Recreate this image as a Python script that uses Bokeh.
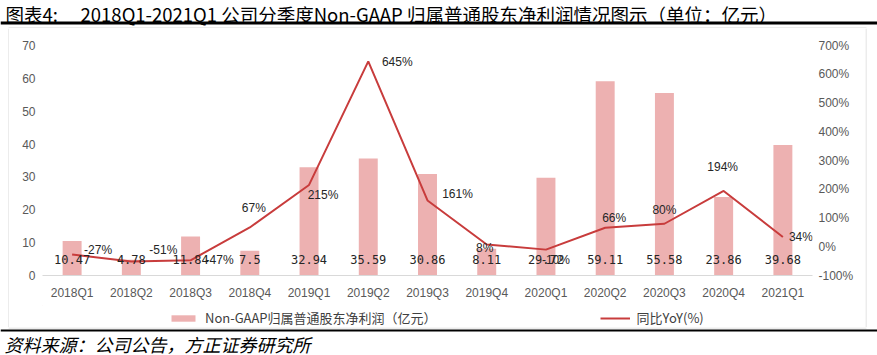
from bokeh.plotting import figure
from bokeh.layouts import column, row
from bokeh.models import (ColumnDataSource, Range1d, LinearAxis, FixedTicker, PrintfTickFormatter,
                          LabelSet, Label, BoxAnnotation, Legend, LegendItem, FactorRange)
from bokeh.core.properties import value
from bokeh.embed import file_html
from bokeh.resources import INLINE

# ---------------- data ----------------
quarters = ["2018Q1", "2018Q2", "2018Q3", "2018Q4", "2019Q1", "2019Q2", "2019Q3",
            "2019Q4", "2020Q1", "2020Q2", "2020Q3", "2020Q4", "2021Q1"]
profit = [10.47, 4.78, 11.84, 7.5, 32.94, 35.59, 30.86, 8.11, 29.72, 59.11, 55.58, 23.86, 39.68]
yoy = [-27, -51, -47, 67, 215, 645, 161, 8, -10, 66, 80, 194, 34]
left_ticks = [0, 10, 20, 30, 40, 50, 60, 70]
right_ticks = [-100, 0, 100, 200, 300, 400, 500, 600, 700]
series_names = ["Non-GAAP归属普通股东净利润（亿元）", "同比YoY(%)"]
title_text = "图表4:\u3000 2018Q1-2021Q1 公司分季度Non-GAAP 归属普通股东净利润情况图示（单位：亿元）"
source_text = "资料来源：公司公告，方正证券研究所"

# label placement (screen px, y up)
yoy_dx = [26, 32, 29, 4, 14, 29, 30, -2, 10, 9, 0, -1, 18]
yoy_dy = [5, 11, 0, 19, -10, -1, 6, -4, -10, 10, 14, 24, 0]

BAR = "#EDB1B1"
LINE = "#C83C3C"
TICK = "#595959"
LAB = "#262626"
BOXC = "#D9D9D9"

W = 877


def blank(width, height, ymax):
    f = figure(width=width, height=height, x_range=Range1d(0, width), y_range=Range1d(ymax, 0),
               output_backend="svg", toolbar_location=None, title=None,
               min_border_left=0, min_border_right=0, min_border_top=0, min_border_bottom=0,
               x_axis_location=None, y_axis_location=None,
               background_fill_color="white", border_fill_color="white", outline_line_color=None)
    f.xgrid.visible = False
    f.ygrid.visible = False
    return f


def box(left, right, top, bottom, color):
    return BoxAnnotation(left=left, right=right, top=top, bottom=bottom,
                         fill_color=color, fill_alpha=1, line_color=None)


# ---------------- header ----------------
head = blank(W, 28, 28)
head.add_layout(Label(x=5, y=13, text=title_text, text_font="Noto Sans CJK SC",
                      text_font_size="18.5px", text_color="#000000",
                      text_baseline="middle", text_align="left"))
head.add_layout(box(0, W, 21, 24, "#000000"))
head.add_layout(box(8, 866, 27, 28, BOXC))

# ---------------- side strips ----------------
MAIN_H = 277
LEG_H = 22
MH = MAIN_H + LEG_H
lstrip = blank(9, MH, MH)
lstrip.add_layout(box(8, 9, 0, MH, BOXC))
rstrip = blank(12, MH, MH)
rstrip.add_layout(box(0, 1, 0, MH, BOXC))
MW = W - 9 - 12

# ---------------- main chart ----------------
src = ColumnDataSource(dict(
    q=quarters, profit=profit, yoy=yoy,
    profit_label=[str(v) for v in profit],
    yoy_label=[f"{v}%" for v in yoy],
    dx=yoy_dx, dy=yoy_dy,
))

p = figure(width=MW, height=MAIN_H, x_range=FactorRange(factors=quarters), y_range=Range1d(0, 70),
           output_backend="svg", toolbar_location=None, title=None,
           min_border_left=33, min_border_right=53, min_border_top=17, min_border_bottom=30,
           background_fill_color="white", border_fill_color="white", outline_line_color=None)
p.xgrid.grid_line_color = None
p.ygrid.grid_line_color = None

la = p.yaxis[0]
la.ticker = FixedTicker(ticks=left_ticks)
la.axis_line_color = None
la.major_tick_line_color = None
la.major_tick_out = 0
la.major_tick_in = 0
la.minor_tick_line_color = None
la.major_label_standoff = 7
la.major_label_text_font = "Liberation Sans"
la.major_label_text_font_size = "12px"
la.major_label_text_color = TICK

p.extra_y_ranges = {"yoy": Range1d(-100, 700)}
ra = LinearAxis(y_range_name="yoy", ticker=FixedTicker(ticks=right_ticks),
                formatter=PrintfTickFormatter(format="%d%%"))
ra.axis_line_color = None
ra.major_tick_line_color = None
ra.major_tick_out = 0
ra.major_tick_in = 0
ra.minor_tick_line_color = None
ra.major_label_standoff = 6
ra.major_label_text_font = "Liberation Sans"
ra.major_label_text_font_size = "12px"
ra.major_label_text_color = TICK
p.add_layout(ra, "right")

xa = p.xaxis[0]
xa.axis_line_color = BOXC
xa.axis_line_width = 1
xa.major_tick_line_color = None
xa.major_tick_out = 0
xa.major_tick_in = 0
xa.minor_tick_line_color = None
xa.major_label_standoff = 10
xa.major_label_text_font = "Liberation Sans"
xa.major_label_text_font_size = "12px"
xa.major_label_text_color = TICK

bars = p.vbar(x="q", top="profit", width=0.32, source=src, fill_color=BAR, line_color=None)
line = p.line(x="q", y="yoy", source=src, y_range_name="yoy", line_color=LINE, line_width=2)

p.add_layout(LabelSet(x="q", y=0, text="profit_label", y_offset=16, source=src,
                      text_align="center", text_baseline="middle",
                      text_font=value("DejaVu Sans Mono"), text_font_size="12px", text_color=LAB))
p.add_layout(LabelSet(x="q", y="yoy", y_range_name="yoy", text="yoy_label",
                      x_offset="dx", y_offset="dy", source=src,
                      text_align="center", text_baseline="middle",
                      text_font=value("Liberation Sans"), text_font_size="12px", text_color=LAB))

# ---------------- legend strip ----------------
# legend swatches only: glyphs placed outside the visible range of this strip
leg = blank(MW, LEG_H, LEG_H)
leg_bar = leg.vbar(x=[-100], top=[-100], bottom=[-101], width=1, fill_color=BAR, line_color=None)
leg_line = leg.line(x=[-100, -90], y=[-100, -100], line_color=LINE, line_width=2)
legend = Legend(items=[LegendItem(label=series_names[0], renderers=[leg_bar]),
                       LegendItem(label=series_names[1], renderers=[leg_line])],
                location=(126, 0), orientation="horizontal",
                glyph_width=30, glyph_height=8, label_standoff=7, spacing=163,
                padding=0, margin=0, border_line_color=None, background_fill_alpha=0,
                label_text_font="Noto Sans CJK SC", label_text_font_size="13px",
                label_text_color="#404040")
leg.add_layout(legend)

# ---------------- footer ----------------
foot = blank(W, 28, 28)
foot.add_layout(box(8, 866, 0, 1, BOXC))
foot.add_layout(box(0, W, 2, 4, "#000000"))
foot.add_layout(Label(x=4, y=16, text=source_text, text_font="Noto Sans CJK SC",
                      text_font_size="18px", text_font_style="italic", text_color="#000000",
                      text_baseline="middle", text_align="left"))

layout = column(head, row(lstrip, column(p, leg), rstrip), foot)
open("out.html", "w").write(file_html(layout, INLINE))
